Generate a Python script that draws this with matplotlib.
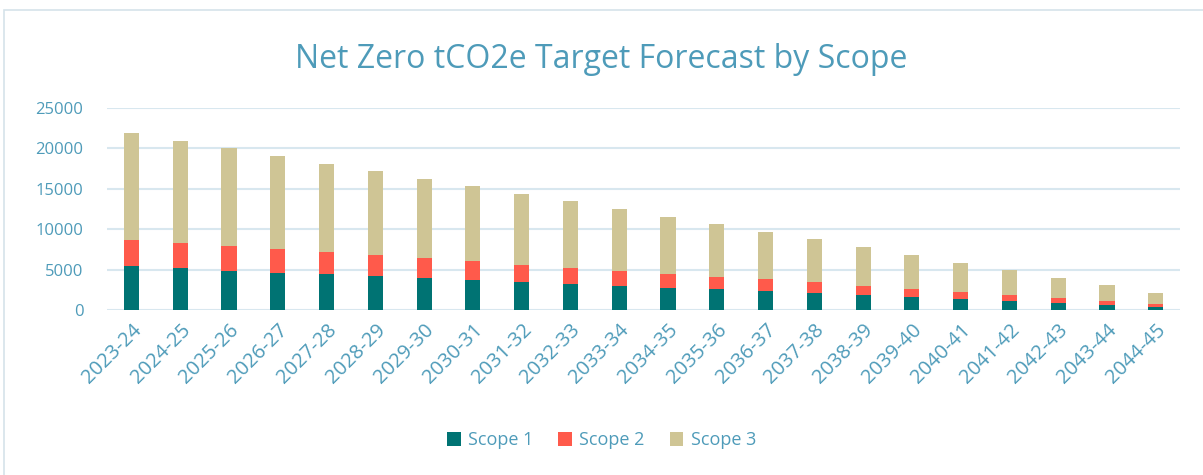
import matplotlib.pyplot as plt
from matplotlib.patches import Rectangle

# years on the x axis
years = ['2023-24', '2024-25', '2025-26', '2026-27', '2027-28', '2028-29',
         '2029-30', '2030-31', '2031-32', '2032-33', '2033-34', '2034-35',
         '2035-36', '2036-37', '2037-38', '2038-39', '2039-40', '2040-41',
         '2041-42', '2042-43', '2043-44', '2044-45']

# values (tCO2e)
scope1 = [5400, 5150, 4900, 4650, 4455, 4245, 4000, 3750, 3540, 3290, 3045,
          2800, 2600, 2350, 2140, 1930, 1680, 1435, 1190, 940, 690, 445]
scope2 = [3210, 3090, 2970, 2850, 2675, 2515, 2390, 2265, 2100, 1980, 1855,
          1730, 1560, 1440, 1280, 1115, 990, 865, 740, 620, 460, 375]
scope3 = [13290, 12660, 12130, 11560, 10970, 10390, 9860, 9285, 8720, 8170,
          7600, 7020, 6440, 5900, 5320, 4705, 4170, 3590, 3020, 2440, 1940, 1320]

txt = '#4e9bb9'
c1, c2, c3 = '#007373', '#ff5a4b', '#cfc595'

plt.rcParams['font.family'] = ['Open Sans', 'DejaVu Sans']

fig = plt.figure(figsize=(12.03, 4.75), dpi=100)
ax = fig.add_axes([0.089, 0.347, 0.892, 0.426])

x = range(len(years))
w = 0.31
ax.bar(x, scope1, w, color=c1, label='Scope 1', zorder=3)
ax.bar(x, scope2, w, bottom=scope1, color=c2, label='Scope 2', zorder=3)
bottom3 = [a + b for a, b in zip(scope1, scope2)]
ax.bar(x, scope3, w, bottom=bottom3, color=c3, label='Scope 3', zorder=3)

ax.set_xlim(-0.5, len(years) - 0.5)
ax.set_ylim(0, 25000)
ax.set_yticks(range(0, 25001, 5000))
ax.grid(axis='y', color='#d8e7ef', linewidth=1.5, zorder=0)
for s in ax.spines.values():
    s.set_visible(False)
ax.tick_params(length=0, colors=txt)
ax.tick_params(axis='y', pad=17, labelsize=12)
ax.tick_params(axis='x', pad=7, labelsize=14.5)
ax.set_xticks(list(x))
ax.set_xticklabels(years, rotation=45, ha='right', rotation_mode='anchor')

fig.suptitle('Net Zero tCO2e Target Forecast by Scope', color=txt,
             fontsize=23, y=0.91)

fig.legend(loc='center', bbox_to_anchor=(0.5, 0.073), ncol=3, frameon=False,
           fontsize=13, labelcolor=txt, handlelength=0.75, handleheight=0.75,
           columnspacing=1.4, handletextpad=0.4)

fig.patches.append(Rectangle((0.003, -0.01), 1.2, 0.99, transform=fig.transFigure,
                             fill=False, edgecolor='#d5e3ea', linewidth=1.2))

fig.savefig('out.png', dpi=100)
